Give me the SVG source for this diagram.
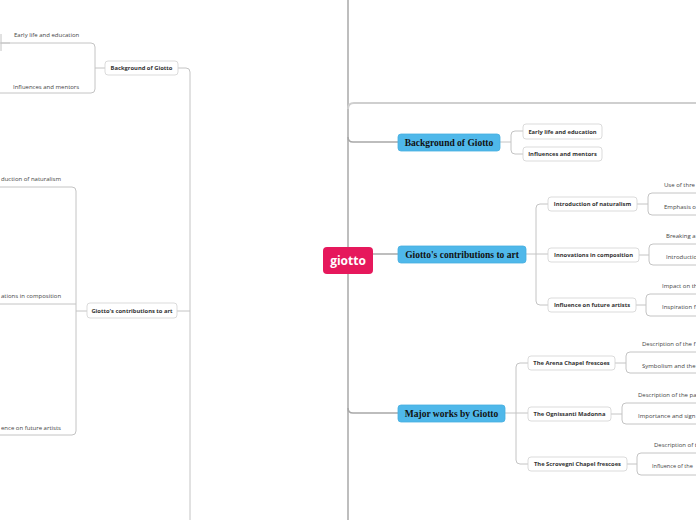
<svg xmlns="http://www.w3.org/2000/svg" width="696" height="520" viewBox="0 0 696 520">
<style>
.bg{fill:#fff}
.c{fill:none;stroke:#c4c4c4;stroke-width:1}
.trunk{fill:none;stroke:#a8a8a8;stroke-width:1.5}
.top{fill:none;stroke:#cfcfcf;stroke-width:2}
.n{fill:#fff;stroke:#d2d2d2;stroke-width:0.8}
.b{fill:#4fb8ea;stroke:#46aee0;stroke-width:0.8}
.r{fill:#e6185c}
.t{font-family:"Open Sans","Noto Sans",sans-serif;font-size:5.8px;font-weight:bold;fill:#333}
.l{font-family:"Open Sans","Noto Sans",sans-serif;font-size:6px;fill:#444}
.bt{font-family:"Liberation Serif","DejaVu Serif",serif;font-size:9.5px;font-weight:bold;fill:#111}
.rt{font-family:"Open Sans","Noto Sans",sans-serif;font-size:12px;font-weight:bold;fill:#fff}
</style>
<rect class="bg" width="696" height="520"/>
<g id="connectors">
  <!-- left map -->
  <path class="c" d="M1,34 L1,51 M1,43 L10,43"/>
  <path class="c" d="M0,43 L91,43 Q95,43 95,47 L95,89 Q95,93 91,93 L0,93 M95,68 L105,68"/>
  <path class="c" d="M178,68 L186,68 Q190,68 190,72 L190,520 M177,311 L190,311"/>
  <path class="c" d="M0,187 L72,187 Q76,187 76,191 L76,431 Q76,435 72,435 L0,435 M0,304 L76,304 M76,311 L87,311"/>
  <!-- main map -->
  <path class="trunk" d="M348,0 L348,520"/>
  <path class="top" d="M348,109 Q348,103 354,103 L696,103"/>
  <path class="trunk" d="M348,137 Q348,142 353,142 L398,142"/>
  <path class="trunk" d="M373,254 L398,254"/>
  <path class="trunk" d="M348,408 Q348,413 353,413 L398,413"/>
  <!-- background children -->
  <path class="c" d="M500,142 L511,142 M523,131 L515,131 Q511,131 511,135 L511,150 Q511,154 515,154 L523,154"/>
  <!-- contributions children -->
  <path class="c" d="M526,254 L548,254 M548,204 L540,204 Q536,204 536,208 L536,301 Q536,305 540,305 L548,305"/>
  <path class="c" d="M637,204 L648,204 M696,193 L652,193 Q648,193 648,197 L648,211 Q648,215 652,215 L696,215"/>
  <path class="c" d="M639,255 L649,255 M696,244 L653,244 Q649,244 649,248 L649,261 Q649,265 653,265 L696,265"/>
  <path class="c" d="M636,305 L646,305 M696,294 L650,294 Q646,294 646,298 L646,312 Q646,316 650,316 L696,316"/>
  <!-- major works children -->
  <path class="c" d="M505,413 L528,413 M528,363 L520,363 Q516,363 516,367 L516,460 Q516,464 520,464 L528,464"/>
  <path class="c" d="M615,363 L626,363 M696,352 L630,352 Q626,352 626,356 L626,369 Q626,373 630,373 L696,373"/>
  <path class="c" d="M611,414 L622,414 M696,403 L626,403 Q622,403 622,407 L622,420 Q622,424 626,424 L696,424"/>
  <path class="c" d="M627,464 L637,464 M696,453 L641,453 Q637,453 637,457 L637,471 Q637,475 641,475 L696,475"/>
</g>
<g id="left-leaves">
  <text class="l" x="14" y="37">Early life and education</text>
  <text class="l" x="13" y="89">Influences and mentors</text>
  <text class="l" x="1" y="181">duction of naturalism</text>
  <text class="l" x="1" y="298">ations in composition</text>
  <text class="l" x="1" y="430">ence on future artists</text>
</g>
<g id="left-background">
  <rect class="n" x="105" y="61" width="73" height="14" rx="3"/>
  <text class="t" x="141.5" y="70" text-anchor="middle">Background of Giotto</text>
</g>
<g id="left-contributions">
  <rect class="n" x="87" y="303" width="90" height="15" rx="3"/>
  <text class="t" x="132" y="312.5" text-anchor="middle">Giotto's contributions to art</text>
</g>
<g id="root">
  <rect class="r" x="323" y="247" width="50" height="27" rx="4"/>
  <text class="rt" x="348" y="265" text-anchor="middle">giotto</text>
</g>
<g id="background">
  <rect class="b" x="398" y="134" width="102" height="17" rx="3"/>
  <text class="bt" x="449" y="145.5" text-anchor="middle">Background of Giotto</text>
</g>
<g id="contributions">
  <rect class="b" x="398" y="246" width="128" height="17" rx="3"/>
  <text class="bt" x="462" y="257.5" text-anchor="middle">Giotto's contributions to art</text>
</g>
<g id="major-works">
  <rect class="b" x="398" y="405" width="107" height="17" rx="3"/>
  <text class="bt" x="451.5" y="416.5" text-anchor="middle">Major works by Giotto</text>
</g>
<g id="early-life">
  <rect class="n" x="523" y="124" width="79" height="15" rx="3"/>
  <text class="t" x="562.5" y="133.5" text-anchor="middle">Early life and education</text>
</g>
<g id="influences-mentors">
  <rect class="n" x="523" y="147" width="79" height="14" rx="3"/>
  <text class="t" x="562.5" y="156" text-anchor="middle">Influences and mentors</text>
</g>
<g id="naturalism">
  <rect class="n" x="548" y="197" width="89" height="14" rx="3"/>
  <text class="t" x="592.5" y="206" text-anchor="middle">Introduction of naturalism</text>
  <text class="l" x="664" y="187">Use of thre</text>
  <text class="l" x="664" y="209">Emphasis o</text>
</g>
<g id="composition">
  <rect class="n" x="548" y="248" width="91" height="14" rx="3"/>
  <text class="t" x="593.5" y="257" text-anchor="middle">Innovations in composition</text>
  <text class="l" x="666" y="238">Breaking a</text>
  <text class="l" x="666" y="259">Introductio</text>
</g>
<g id="future-artists">
  <rect class="n" x="548" y="298" width="88" height="14" rx="3"/>
  <text class="t" x="592" y="307" text-anchor="middle">Influence on future artists</text>
  <text class="l" x="662" y="288">Impact on th</text>
  <text class="l" x="662" y="309">Inspiration f</text>
</g>
<g id="arena">
  <rect class="n" x="528" y="356" width="87" height="14" rx="3"/>
  <text class="t" x="571.5" y="365" text-anchor="middle">The Arena Chapel frescoes</text>
  <text class="l" x="642" y="346">Description of the f</text>
  <text class="l" x="642" y="368">Symbolism and the</text>
</g>
<g id="ognissanti">
  <rect class="n" x="528" y="407" width="83" height="14" rx="3"/>
  <text class="t" x="569.5" y="416" text-anchor="middle">The Ognissanti Madonna</text>
  <text class="l" x="638" y="397">Description of the pa</text>
  <text class="l" x="638" y="418">Importance and sign</text>
</g>
<g id="scrovegni">
  <rect class="n" x="528" y="457" width="99" height="14" rx="3"/>
  <text class="t" x="577.5" y="466" text-anchor="middle">The Scrovegni Chapel frescoes</text>
  <text class="l" x="654" y="447">Description of t</text>
  <text class="l" x="652" y="468" style="font-size:5.6px">Influence of the</text>
</g>
</svg>
